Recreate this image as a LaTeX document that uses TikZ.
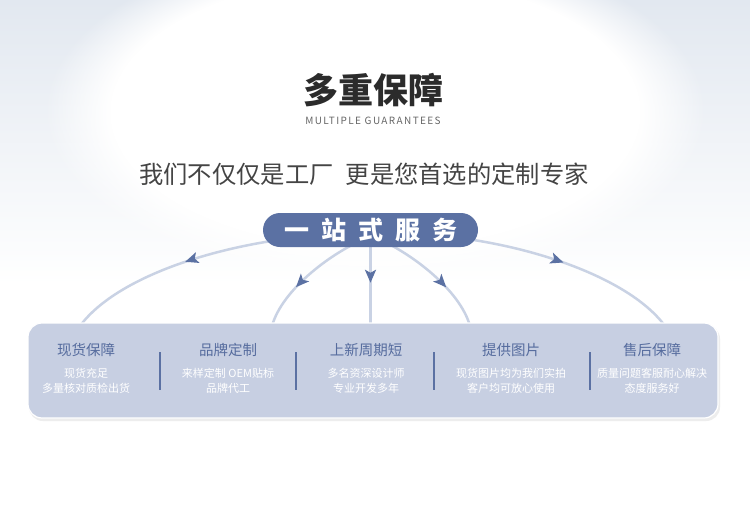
\documentclass[tikz,border=0pt]{standalone}
\usepackage{fontspec}
\setmainfont{Noto Sans CJK SC}
\newfontfamily\spaced[LetterSpace=14]{Noto Sans CJK SC}
\usetikzlibrary{positioning, arrows.meta, decorations.markings, backgrounds, fadings, calc}

\definecolor{bgblue}{HTML}{E2E8F0}
\definecolor{mainblue}{HTML}{5B71A3}
\definecolor{arcblue}{HTML}{C9D2E4}
\definecolor{panelblue}{HTML}{C7CFE2}
\definecolor{headblue}{HTML}{566C9E}
\definecolor{titlegray}{HTML}{2B2B2B}
\definecolor{textgray}{HTML}{444444}

\begin{document}
\begin{tikzpicture}[x=1pt, y=-1pt,
    hubbox/.style={draw=none, fill=mainblue, rectangle, rounded corners=17pt, minimum width=215pt, minimum height=34pt, inner sep=0pt, text=white, font=\fontsize{25}{28}\selectfont\bfseries},
    panelbox/.style={draw=white, line width=1.2pt, fill=panelblue, rectangle, rounded corners=14pt, minimum width=690pt, minimum height=95pt},
    arcline/.style={draw=arcblue, line width=2.5pt},
    tipat/.style={postaction={decorate, decoration={markings, mark=at position #1 with {\arrow{Stealth[length=13pt, width=11pt, inset=3pt, color=mainblue]}}}}},
    headtext/.style={text=headblue, font=\fontsize{14.5}{16}\selectfont},
    desctext/.style={text=white, align=center, font=\fontsize{11}{15}\selectfont},
    sepline/.style={draw=mainblue, line width=2pt}]
        \useasboundingbox (0,0) rectangle (750,506);

        % Draw the background
        \begin{pgfonlayer}{background}
            \fill[white] (0,0) rectangle (750,506);
            \fill[top color=bgblue, bottom color=white] (0,0) rectangle (750,285);
            \fill[white, path fading=circle with fuzzy edge 20 percent] (375,112) ellipse (330 and 170);
            \fill[black!7, rounded corners=14pt] (29,325) rectangle (720,421);
        \end{pgfonlayer}

        % Draw the titles
        \node (title)    [text=titlegray, font=\fontsize{35}{40}\selectfont\bfseries] at (373,90) {多重保障};
        \node (subtitle) [text=black!60, font=\spaced\fontsize{10}{11}\selectfont] at (373,121) {MULTIPLE GUARANTEES};
        \node (slogan)   [text=textgray, font=\fontsize{24.3}{27}\selectfont] at (364,174) {我们不仅仅是工厂\hspace{0.5em}更是您首选的定制专家};

        % Draw the hub and the panel
        \node (hub)   [hubbox] at (370.5,230) {一\hspace{12pt}站\hspace{12pt}式\hspace{12pt}服\hspace{12pt}务};
        \node (panel) [panelbox] at (373,370.5) {};

        % Points where the arcs meet the panel
        \coordinate (p1) at (80,326);
        \coordinate (p2) at (272,326);
        \coordinate (p3) at (370.5,326);
        \coordinate (p4) at (470,326);
        \coordinate (p5) at (665,326);

        % Draw the connecting arcs
        \begin{pgfonlayer}{background}
            \draw [arcline, tipat=0.45] ($(hub.west)+(22,9)$) .. controls (190,252) and (110,285) .. (p1);
            \draw [arcline, tipat=0.64] ($(hub.center)+(-8,10)$) .. controls (330,254) and (282,290) .. (p2);
            \draw [arcline, tipat=0.55] (hub.center) -- (p3);
            \draw [arcline, tipat=0.64] ($(hub.center)+(10,10)$) .. controls (412,254) and (460,290) .. (p4);
            \draw [arcline, tipat=0.45] ($(hub.east)+(-11,9)$) .. controls (555,252) and (635,285) .. (p5);
        \end{pgfonlayer}

        % Add the columns of the panel
        \foreach \x/\head/\desc in {86/现货保障/{现货充足\\多量核对质检出货},
                                    228/品牌定制/{来样定制 OEM贴标\\品牌代工},
                                    366/上新周期短/{多名资深设计师\\专业开发多年},
                                    511/提供图片/{现货图片均为我们实拍\\客户均可放心使用},
                                    652/售后保障/{质量问题客服耐心解决\\态度服务好}} {
            \node (head\x) [headtext] at (\x,350) {\head};
            \node (desc\x) [desctext] at (\x,380.5) {\desc};
        }
        \foreach \x in {160,296,434,590}
            \draw [sepline] (\x,352) -- (\x,390);
    \end{tikzpicture}
\end{document}
